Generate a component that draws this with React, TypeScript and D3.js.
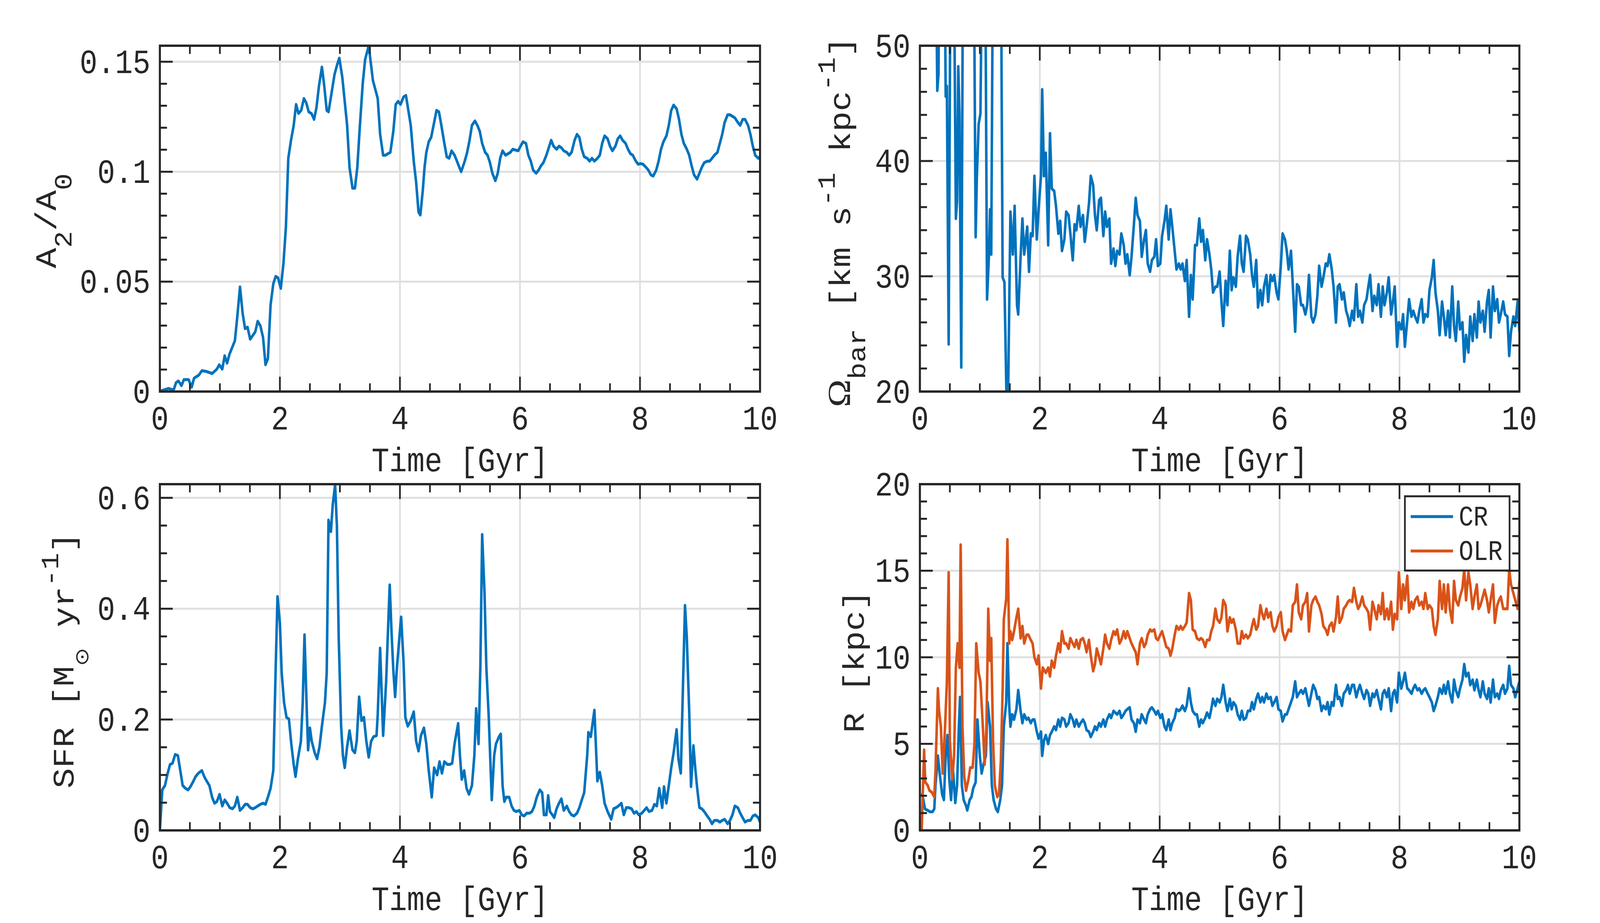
import React from 'react';
import * as d3 from 'd3';

type Pt = [number, number];

// ---------------- data ----------------
const xTickValues = [0, 2, 4, 6, 8, 10];
const xTickLabels = ['0', '2', '4', '6', '8', '10'];

const a2TickValues = [0, 0.05, 0.1, 0.15];
const a2TickLabels = ['0', '0.05', '0.1', '0.15'];
const omegaTickValues = [20, 30, 40, 50];
const omegaTickLabels = ['20', '30', '40', '50'];
const sfrTickValues = [0, 0.2, 0.4, 0.6];
const sfrTickLabels = ['0', '0.2', '0.4', '0.6'];
const rTickValues = [0, 5, 10, 15, 20];
const rTickLabels = ['0', '5', '10', '15', '20'];

const a2Points: Pt[] = [
  [0, 0], [0.06, 0.0007], [0.145, 0.0014], [0.23, 0.0007], [0.27, 0.0041], [0.31, 0.0048], [0.36, 0.0027], [0.40, 0.0054], [0.48, 0.0054], [0.53, 0.002],
  [0.57, 0.0061], [0.61, 0.0068], [0.65, 0.0075], [0.70, 0.0095], [0.78, 0.0091], [0.87, 0.0082], [0.95, 0.0102], [0.99, 0.0122], [1.04, 0.0102], [1.08, 0.0163],
  [1.12, 0.0129], [1.16, 0.0170], [1.25, 0.0231], [1.29, 0.0340], [1.335, 0.0476], [1.38, 0.0354], [1.42, 0.0286], [1.46, 0.0293], [1.505, 0.0238], [1.59, 0.0272],
  [1.63, 0.0320], [1.675, 0.0299], [1.72, 0.0245], [1.76, 0.0122], [1.80, 0.0150], [1.845, 0.0395], [1.89, 0.0490], [1.93, 0.0524], [1.97, 0.0517], [2.015, 0.0469],
  [2.06, 0.0585], [2.10, 0.0748], [2.14, 0.1061], [2.185, 0.1143], [2.23, 0.1211], [2.27, 0.1306], [2.31, 0.1265], [2.355, 0.1279], [2.40, 0.1333], [2.44, 0.1313],
  [2.48, 0.1272], [2.525, 0.1265], [2.57, 0.1238], [2.61, 0.1293], [2.65, 0.1388], [2.70, 0.1476], [2.74, 0.1388], [2.78, 0.1279], [2.81, 0.1272], [2.87, 0.1374],
  [2.91, 0.1442], [2.95, 0.1483], [2.99, 0.1517], [3.04, 0.1429], [3.12, 0.1211], [3.16, 0.1020], [3.21, 0.0925], [3.25, 0.0925], [3.29, 0.1020], [3.33, 0.1197],
  [3.38, 0.1401], [3.42, 0.1510], [3.48, 0.1573], [3.55, 0.1415], [3.59, 0.1374], [3.63, 0.1333], [3.67, 0.1170], [3.72, 0.1075], [3.76, 0.1075], [3.80, 0.1082],
  [3.84, 0.1088], [3.89, 0.1184], [3.93, 0.1306], [3.97, 0.1320], [4.01, 0.1306], [4.06, 0.1340], [4.10, 0.1347], [4.14, 0.1279], [4.18, 0.1211], [4.23, 0.1048],
  [4.27, 0.0952], [4.31, 0.0816], [4.34, 0.0803], [4.38, 0.0912], [4.41, 0.1020], [4.44, 0.1088], [4.48, 0.1136], [4.52, 0.1156], [4.57, 0.1224], [4.61, 0.1279],
  [4.65, 0.1272], [4.69, 0.1211], [4.74, 0.1129], [4.78, 0.1068], [4.82, 0.1061], [4.86, 0.1095], [4.91, 0.1075], [4.95, 0.1048], [4.99, 0.1020], [5.02, 0.1000],
  [5.08, 0.1048], [5.12, 0.1088], [5.16, 0.1143], [5.20, 0.1211], [5.25, 0.1231], [5.29, 0.1211], [5.33, 0.1184], [5.37, 0.1129], [5.42, 0.1088], [5.46, 0.1075],
  [5.50, 0.1041], [5.54, 0.0993], [5.59, 0.0959], [5.63, 0.0993], [5.67, 0.1061], [5.71, 0.1095], [5.76, 0.1075], [5.84, 0.1088], [5.88, 0.1102], [5.97, 0.1095],
  [6.01, 0.1116], [6.05, 0.1136], [6.10, 0.1129], [6.14, 0.1075], [6.18, 0.1048], [6.22, 0.1007], [6.27, 0.0993], [6.31, 0.1007], [6.35, 0.1027], [6.39, 0.1041],
  [6.44, 0.1075], [6.48, 0.1109], [6.52, 0.1143], [6.56, 0.1116], [6.61, 0.1102], [6.65, 0.1116], [6.69, 0.1109], [6.73, 0.1095], [6.78, 0.1088], [6.82, 0.1075],
  [6.86, 0.1088], [6.91, 0.1143], [6.95, 0.1170], [6.99, 0.1156], [7.03, 0.1102], [7.07, 0.1068], [7.12, 0.1061], [7.16, 0.1048], [7.20, 0.1061], [7.24, 0.1048],
  [7.29, 0.1061], [7.33, 0.1075], [7.37, 0.1129], [7.41, 0.1163], [7.46, 0.1150], [7.50, 0.1116], [7.54, 0.1095], [7.59, 0.1116], [7.63, 0.1150], [7.67, 0.1163],
  [7.71, 0.1143], [7.76, 0.1129], [7.80, 0.1102], [7.84, 0.1082], [7.88, 0.1075], [7.93, 0.1048], [7.97, 0.1034], [8.01, 0.1037], [8.05, 0.1034], [8.10, 0.1020],
  [8.14, 0.1007], [8.18, 0.0986], [8.22, 0.0980], [8.27, 0.1007], [8.31, 0.1048], [8.35, 0.1102], [8.39, 0.1136], [8.44, 0.1163], [8.48, 0.1211], [8.52, 0.1279],
  [8.56, 0.1303], [8.61, 0.1286], [8.65, 0.1238], [8.69, 0.1170], [8.73, 0.1129], [8.78, 0.1102], [8.82, 0.1075], [8.86, 0.1027], [8.90, 0.0986], [8.95, 0.0966],
  [8.99, 0.0993], [9.03, 0.1020], [9.07, 0.1041], [9.12, 0.1048], [9.16, 0.1048], [9.20, 0.1061], [9.24, 0.1075], [9.29, 0.1088], [9.33, 0.1129], [9.37, 0.1170],
  [9.41, 0.1224], [9.46, 0.1259], [9.50, 0.1259], [9.54, 0.1252], [9.58, 0.1245], [9.63, 0.1224], [9.67, 0.1211], [9.71, 0.1238], [9.75, 0.1238], [9.80, 0.1211],
  [9.84, 0.1170], [9.88, 0.1116], [9.92, 0.1075], [9.97, 0.1061], [10.0, 0.1068],
];

const sfrPoints: Pt[] = [
  [0, 0], [0.04, 0.073], [0.085, 0.081], [0.13, 0.103], [0.17, 0.119], [0.21, 0.121], [0.255, 0.137], [0.30, 0.135], [0.34, 0.108], [0.38, 0.081],
  [0.425, 0.076], [0.47, 0.073], [0.51, 0.079], [0.55, 0.087], [0.595, 0.097], [0.64, 0.103], [0.70, 0.108], [0.74, 0.097], [0.78, 0.089], [0.825, 0.081],
  [0.87, 0.060], [0.91, 0.049], [0.95, 0.052], [0.995, 0.065], [1.04, 0.044], [1.08, 0.055], [1.12, 0.049], [1.165, 0.041], [1.21, 0.039], [1.25, 0.044],
  [1.29, 0.060], [1.335, 0.036], [1.38, 0.041], [1.42, 0.047], [1.46, 0.047], [1.505, 0.041], [1.55, 0.039], [1.59, 0.041], [1.63, 0.044], [1.675, 0.047],
  [1.72, 0.049], [1.76, 0.047], [1.80, 0.060], [1.845, 0.076], [1.89, 0.108], [1.93, 0.294], [1.96, 0.422], [2.00, 0.374], [2.03, 0.284], [2.07, 0.230],
  [2.11, 0.204], [2.15, 0.201], [2.19, 0.156], [2.23, 0.119], [2.26, 0.097], [2.30, 0.129], [2.35, 0.161], [2.38, 0.230], [2.41, 0.353], [2.45, 0.209],
  [2.47, 0.145], [2.50, 0.185], [2.53, 0.161], [2.58, 0.140], [2.62, 0.129], [2.66, 0.151], [2.70, 0.188], [2.75, 0.230], [2.78, 0.284], [2.81, 0.560],
  [2.85, 0.539], [2.88, 0.587], [2.92, 0.624], [2.95, 0.549], [2.98, 0.347], [3.02, 0.188], [3.05, 0.135], [3.08, 0.113], [3.12, 0.151], [3.16, 0.180],
  [3.21, 0.145], [3.25, 0.140], [3.28, 0.161], [3.32, 0.241], [3.36, 0.198], [3.40, 0.204], [3.44, 0.161], [3.48, 0.132], [3.52, 0.161], [3.56, 0.169],
  [3.61, 0.171], [3.63, 0.209], [3.67, 0.329], [3.72, 0.171], [3.77, 0.268], [3.80, 0.358], [3.83, 0.443], [3.86, 0.358], [3.89, 0.289], [3.92, 0.241],
  [3.95, 0.294], [3.99, 0.347], [4.02, 0.385], [4.06, 0.305], [4.09, 0.204], [4.13, 0.188], [4.18, 0.198], [4.23, 0.214], [4.27, 0.161], [4.31, 0.143],
  [4.35, 0.171], [4.40, 0.185], [4.44, 0.156], [4.48, 0.108], [4.53, 0.060], [4.57, 0.113], [4.62, 0.100], [4.66, 0.124], [4.70, 0.103], [4.74, 0.124],
  [4.79, 0.119], [4.83, 0.119], [4.87, 0.121], [4.91, 0.156], [4.97, 0.193], [5.00, 0.135], [5.03, 0.092], [5.07, 0.108], [5.11, 0.076], [5.15, 0.065],
  [5.20, 0.081], [5.24, 0.135], [5.27, 0.220], [5.31, 0.156], [5.34, 0.294], [5.37, 0.534], [5.41, 0.427], [5.44, 0.294], [5.48, 0.204], [5.53, 0.055],
  [5.57, 0.135], [5.60, 0.156], [5.65, 0.169], [5.68, 0.174], [5.71, 0.081], [5.74, 0.052], [5.77, 0.060], [5.82, 0.060], [5.86, 0.044], [5.90, 0.036],
  [5.94, 0.034], [5.99, 0.036], [6.03, 0.028], [6.07, 0.026], [6.11, 0.031], [6.16, 0.031], [6.20, 0.034], [6.24, 0.044], [6.28, 0.060], [6.33, 0.073],
  [6.37, 0.068], [6.40, 0.028], [6.44, 0.028], [6.47, 0.063], [6.50, 0.034], [6.54, 0.028], [6.57, 0.023], [6.61, 0.039], [6.65, 0.049], [6.69, 0.057],
  [6.73, 0.036], [6.78, 0.044], [6.82, 0.034], [6.86, 0.028], [6.90, 0.026], [6.95, 0.031], [6.99, 0.041], [7.03, 0.055], [7.07, 0.068], [7.12, 0.135],
  [7.14, 0.177], [7.18, 0.169], [7.21, 0.193], [7.24, 0.217], [7.26, 0.166], [7.29, 0.089], [7.33, 0.105], [7.37, 0.081], [7.41, 0.049], [7.46, 0.034],
  [7.52, 0.020], [7.56, 0.039], [7.60, 0.041], [7.64, 0.044], [7.69, 0.049], [7.73, 0.028], [7.77, 0.041], [7.81, 0.041], [7.86, 0.039], [7.90, 0.031],
  [7.94, 0.034], [7.98, 0.028], [8.03, 0.031], [8.07, 0.036], [8.11, 0.041], [8.15, 0.034], [8.20, 0.036], [8.24, 0.047], [8.28, 0.044], [8.32, 0.076],
  [8.37, 0.041], [8.40, 0.079], [8.44, 0.049], [8.48, 0.081], [8.52, 0.113], [8.56, 0.140], [8.61, 0.182], [8.64, 0.129], [8.68, 0.103], [8.72, 0.278],
  [8.75, 0.406], [8.78, 0.347], [8.82, 0.214], [8.85, 0.079], [8.89, 0.153], [8.92, 0.113], [8.95, 0.079], [8.99, 0.041], [9.03, 0.039], [9.07, 0.034],
  [9.12, 0.026], [9.16, 0.020], [9.20, 0.012], [9.24, 0.018], [9.29, 0.018], [9.33, 0.015], [9.37, 0.018], [9.41, 0.020], [9.46, 0.012], [9.50, 0.018],
  [9.54, 0.028], [9.58, 0.044], [9.63, 0.041], [9.67, 0.031], [9.71, 0.023], [9.75, 0.015], [9.80, 0.018], [9.84, 0.018], [9.88, 0.026], [9.92, 0.028],
  [9.97, 0.023], [10.0, 0.015],
];

// early (irregular) part of the pattern-speed and resonance series
const omegaEarly: Pt[] = [
  [0.02, 80], [0.26, 62], [0.29, 46.1], [0.31, 47.5], [0.33, 62], [0.41, 60], [0.43, 45.6], [0.45, 46.5], [0.48, 24.1], [0.51, 58],
  [0.57, 56], [0.60, 35.0], [0.62, 36.5], [0.64, 48.2], [0.66, 44], [0.69, 22.1], [0.72, 60], [0.90, 58], [0.93, 33.4], [0.95, 38.6],
  [0.98, 43.2], [1.01, 44.1], [1.04, 60], [1.09, 58], [1.12, 28.0], [1.15, 31.6], [1.17, 35.8], [1.19, 31.9], [1.22, 60], [1.35, 60],
  [1.38, 29.9], [1.41, 29.5], [1.46, 15], [1.51, 35.6], [1.55, 31.9], [1.58, 36.1], [1.62, 27.5], [1.64, 26.7], [1.68, 31.7], [1.71, 35.0],
  [1.74, 31.9], [1.79, 34.3], [1.82, 30.4], [1.85, 33.7], [1.88, 33.5], [1.91, 38.7], [1.95, 33.2], [1.98, 35.8], [2.02, 38.7], [2.04, 46.2],
  [2.07, 38.7],
];

const crEarly: Pt[] = [
  [0.04, 2.1], [0.085, 1.24], [0.13, 1.16], [0.17, 1.07], [0.21, 1.07], [0.24, 1.24], [0.26, 2.6], [0.30, 4.31], [0.33, 3.29], [0.37, 2.1],
  [0.40, 1.76], [0.43, 4.3], [0.46, 5.5], [0.49, 2.95], [0.52, 1.76], [0.55, 3.63], [0.59, 1.59], [0.62, 2.6], [0.65, 6.0], [0.67, 7.7],
  [0.70, 2.6], [0.73, 1.76], [0.77, 1.42], [0.79, 1.16], [0.83, 1.76], [0.86, 1.93], [0.89, 2.44], [0.93, 2.78], [0.96, 6.4], [1.00, 4.3],
  [1.03, 3.29], [1.06, 3.8], [1.10, 4.3], [1.13, 7.4], [1.17, 6.0], [1.20, 2.6], [1.23, 1.76], [1.27, 1.24], [1.30, 1.07], [1.34, 1.76],
  [1.37, 2.6], [1.40, 6.0], [1.44, 7.4], [1.46, 10.8], [1.49, 7.2], [1.51, 6.0], [1.54, 6.7], [1.57, 6.4], [1.61, 7.0], [1.64, 8.1],
  [1.68, 6.9], [1.71, 6.2], [1.74, 6.7], [1.78, 6.4], [1.81, 6.5], [1.85, 6.2], [1.88, 6.4], [1.91, 6.4], [1.95, 5.7], [1.98, 5.3],
  [2.02, 5.7], [2.04, 4.31], [2.07, 5.2],
];

const olrEarly: Pt[] = [
  [0.03, 0], [0.07, 4.65], [0.09, 2.78], [0.13, 2.6], [0.16, 2.3], [0.20, 2.2], [0.24, 1.93], [0.26, 3.46], [0.30, 8.2], [0.32, 6.9],
  [0.35, 6.0], [0.38, 3.29], [0.42, 6.0], [0.45, 8.6], [0.48, 14.9], [0.50, 5.2], [0.54, 2.95], [0.57, 4.31], [0.60, 9.4], [0.63, 10.8],
  [0.66, 9.4], [0.68, 16.5], [0.71, 6.0], [0.74, 3.12], [0.77, 2.3], [0.81, 2.95], [0.84, 3.63], [0.88, 3.63], [0.91, 5.0], [0.94, 10.8],
  [0.98, 9.1], [1.01, 8.6], [1.05, 6.0], [1.08, 3.8], [1.11, 6.0], [1.14, 12.8], [1.17, 9.8], [1.19, 11.1], [1.22, 5.2], [1.25, 2.6],
  [1.29, 1.93], [1.32, 2.1], [1.35, 4.0], [1.38, 8.1], [1.40, 12.2], [1.44, 13.4], [1.46, 16.8], [1.49, 10.8], [1.51, 11.5], [1.54, 11.0],
  [1.57, 11.5], [1.61, 12.3], [1.64, 12.8], [1.68, 11.1], [1.71, 11.8], [1.74, 10.8], [1.78, 11.3], [1.81, 11.3], [1.85, 11.0], [1.88, 10.8],
  [1.91, 10.0], [1.95, 9.6], [1.98, 10.1], [2.02, 8.2], [2.05, 9.4],
];

// regular snapshot times after 2.1 Gyr (shared by the pattern-speed, CR and OLR series)
const snapTimes = [
  2.10, 2.14, 2.17, 2.20, 2.24, 2.27, 2.31, 2.34, 2.37, 2.41,
  2.44, 2.48, 2.51, 2.55, 2.58, 2.61, 2.65, 2.68, 2.72, 2.75,
  2.78, 2.82, 2.85, 2.89, 2.92, 2.95, 2.99, 3.02, 3.06, 3.09,
  3.12, 3.16, 3.19, 3.23, 3.26, 3.29, 3.33, 3.36, 3.40, 3.43,
  3.46, 3.50, 3.53, 3.57, 3.60, 3.63, 3.67, 3.70, 3.74, 3.77,
  3.80, 3.84, 3.87, 3.91, 3.94, 3.97, 4.01, 4.04, 4.08, 4.11,
  4.15, 4.18, 4.21, 4.25, 4.28, 4.32, 4.35, 4.38, 4.42, 4.45,
  4.49, 4.52, 4.55, 4.59, 4.62, 4.66, 4.69, 4.72, 4.76, 4.79,
  4.83, 4.86, 4.89, 4.93, 4.96, 5.00, 5.03, 5.06, 5.10, 5.13,
  5.17, 5.20, 5.23, 5.27, 5.30, 5.34, 5.37, 5.40, 5.44, 5.47,
  5.51, 5.54, 5.57, 5.61, 5.64, 5.68, 5.71, 5.74, 5.78, 5.81,
  5.85, 5.88, 5.91, 5.95, 5.98, 6.02, 6.05, 6.09, 6.12, 6.15,
  6.19, 6.22, 6.26, 6.29, 6.32, 6.36, 6.39, 6.43, 6.46, 6.49,
  6.53, 6.56, 6.60, 6.63, 6.66, 6.70, 6.73, 6.77, 6.80, 6.83,
  6.87, 6.90, 6.94, 6.97, 7.00, 7.04, 7.07, 7.11, 7.14, 7.17,
  7.21, 7.24, 7.28, 7.31, 7.34, 7.38, 7.41, 7.45, 7.48, 7.51,
  7.55, 7.58, 7.62, 7.65, 7.69, 7.72, 7.75, 7.79, 7.82, 7.86,
  7.89, 7.92, 7.96, 7.99, 8.03, 8.06, 8.09, 8.13, 8.16, 8.20,
  8.23, 8.26, 8.30, 8.33, 8.37, 8.40, 8.43, 8.47, 8.50, 8.54,
  8.57, 8.60, 8.64, 8.67, 8.71, 8.74, 8.77, 8.81, 8.84, 8.88,
  8.91, 8.94, 8.98, 9.01, 9.05, 9.08, 9.11, 9.15, 9.18, 9.22,
  9.25, 9.29, 9.32, 9.35, 9.39, 9.42, 9.46, 9.49, 9.52, 9.56,
  9.59, 9.63, 9.66, 9.69, 9.73, 9.76, 9.80, 9.83, 9.86, 9.90,
  9.93, 9.97, 10.0,
];

const omegaLate = [
  40.7, 32.7, 42.4, 37.6, 37.4, 36.1, 33.7, 34.8, 32.2, 33.2,
  35.6, 35.3, 33.7, 31.4, 34.5, 34.0, 36.1, 34.3, 35.3, 33.0,
  34.3, 36.3, 38.7, 37.9, 35.3, 34.0, 36.6, 36.8, 33.5, 35.6,
  34.3, 35.0, 31.1, 32.4, 30.9, 32.2, 31.9, 33.7, 32.7, 31.1,
  31.9, 30.1, 31.7, 34.5, 36.8, 35.3, 34.8, 31.7, 33.2, 34.0,
  31.1, 30.4, 31.4, 31.7, 33.2, 30.9, 31.1, 33.5, 34.8, 36.1,
  33.2, 35.8, 34.3, 32.2, 30.6, 31.1, 30.6, 31.1, 29.6, 31.4,
  26.5, 30.1, 28.0, 32.7, 32.7, 35.0, 33.0, 34.0, 31.4, 33.2,
  31.9, 30.6, 28.6, 29.1, 29.1, 30.4, 27.8, 25.7, 29.6, 27.5,
  32.2, 28.8, 29.9, 29.1, 31.7, 33.5, 31.1, 30.4, 33.5, 33.2,
  31.9, 30.1, 29.1, 31.4, 27.3, 28.8, 27.5, 29.1, 30.1, 27.8,
  30.1, 29.6, 30.1, 28.6, 28.0, 30.9, 33.7, 33.2, 32.2, 30.6,
  32.2, 29.3, 25.2, 29.3, 29.1, 27.5, 27.5, 26.7, 27.5, 30.1,
  26.5, 26.0, 26.7, 28.3, 30.9, 29.1, 29.9, 31.1, 30.9, 31.9,
  30.6, 29.1, 26.0, 29.1, 29.3, 28.0, 28.6, 27.0, 26.5, 25.7,
  27.0, 26.2, 29.3, 26.5, 27.0, 26.0, 27.5, 28.0, 29.1, 30.1,
  27.0, 28.3, 27.5, 29.3, 26.5, 29.1, 27.5, 28.6, 29.9, 26.7,
  27.8, 29.1, 23.9, 26.0, 25.4, 26.7, 23.9, 26.2, 28.0, 26.5,
  27.0, 26.5, 26.0, 27.0, 28.0, 26.0, 26.7, 26.5, 28.8, 29.9,
  31.4, 28.6, 27.0, 24.9, 27.8, 26.5, 24.9, 27.0, 24.7, 29.1,
  25.7, 24.4, 27.8, 25.4, 26.0, 22.6, 24.9, 23.4, 26.5, 24.4,
  26.7, 24.7, 27.8, 26.0, 27.0, 25.2, 27.8, 28.8, 24.7, 29.1,
  27.0, 28.0, 26.0, 26.7, 27.8, 26.7, 26.5, 23.1, 25.2, 26.5,
  25.7, 27.8, 25.2,
];

const crLate = [
  5.5, 5.0, 5.5, 5.7, 6.0, 5.8, 6.4, 6.0, 6.5, 6.4,
  6.0, 6.2, 6.7, 6.4, 6.0, 6.4, 6.0, 6.2, 6.4, 6.2,
  5.8, 5.7, 5.4, 5.7, 6.0, 5.8, 6.2, 6.0, 6.4, 6.0,
  6.4, 6.7, 6.5, 6.9, 6.8, 6.7, 6.9, 6.5, 6.7, 6.9,
  7.0, 7.1, 6.4, 6.2, 5.7, 6.4, 6.2, 6.7, 6.4, 6.2,
  6.7, 7.0, 7.1, 6.9, 6.7, 6.9, 6.5, 6.7, 6.0, 5.8,
  6.4, 5.8, 6.2, 6.5, 7.0, 6.9, 7.0, 7.2, 6.9, 7.2,
  8.2, 7.4, 6.9, 6.7, 6.7, 6.0, 6.4, 6.2, 6.5, 6.8,
  6.5, 7.0, 7.6, 7.2, 7.6, 7.4, 7.7, 8.4, 7.4, 6.9,
  7.6, 7.0, 7.4, 7.2, 6.7, 6.4, 6.9, 6.4, 6.5, 6.9,
  6.9, 7.4, 7.0, 7.6, 7.9, 7.4, 7.7, 7.4, 7.9, 7.6,
  7.7, 7.2, 7.4, 7.7, 7.0, 6.9, 6.3, 6.7, 6.7, 7.0,
  7.4, 7.7, 8.6, 7.7, 7.9, 8.1, 7.9, 8.2, 7.7, 7.2,
  7.9, 8.4, 8.1, 7.6, 7.7, 6.9, 7.2, 7.0, 7.4, 6.7,
  7.4, 7.2, 8.4, 7.6, 7.7, 7.2, 7.9, 8.1, 8.4, 7.9,
  8.4, 8.4, 7.7, 8.1, 8.4, 7.9, 7.6, 8.1, 7.9, 7.2,
  7.9, 7.7, 8.1, 7.6, 7.0, 7.9, 8.1, 7.7, 8.2, 6.9,
  7.9, 8.1, 7.4, 9.1, 8.2, 8.6, 9.1, 8.2, 8.1, 7.9,
  8.2, 8.4, 8.1, 8.2, 7.9, 8.1, 8.2, 7.9, 7.7, 7.4,
  6.9, 7.2, 7.7, 8.2, 7.9, 8.4, 7.9, 8.6, 7.9, 7.4,
  8.7, 8.1, 7.7, 8.2, 8.7, 9.6, 8.9, 9.1, 8.4, 8.7,
  8.1, 8.7, 8.1, 7.7, 8.6, 7.9, 7.6, 8.2, 7.4, 8.7,
  7.7, 7.9, 7.6, 8.1, 8.4, 7.9, 8.2, 9.5, 8.4, 8.2,
  7.7, 8.2, 8.6,
];

const olrLate = [
  9.1, 9.4, 8.9, 9.8, 9.4, 10.1, 10.8, 10.3, 11.5, 10.8,
  10.8, 10.5, 11.1, 10.8, 10.6, 11.0, 10.5, 11.0, 11.1, 10.8,
  10.3, 11.0, 10.1, 9.2, 9.6, 10.5, 10.0, 9.6, 10.5, 11.3,
  10.8, 10.5, 11.0, 11.5, 11.3, 11.6, 10.8, 11.0, 11.5, 11.1,
  11.5, 11.1, 10.8, 10.5, 10.3, 9.6, 10.8, 11.1, 10.6, 10.8,
  11.3, 11.6, 11.5, 11.6, 11.1, 11.0, 11.3, 11.5, 11.0, 10.6,
  10.5, 10.1, 10.5, 11.3, 11.8, 11.6, 11.8, 11.6, 11.8, 12.0,
  13.7, 13.3, 11.6, 11.5, 11.1, 11.0, 11.1, 11.0, 10.6, 11.0,
  11.0, 11.5, 11.8, 12.8, 12.2, 12.0, 12.3, 13.3, 13.0, 11.5,
  12.3, 12.0, 12.2, 11.6, 10.8, 10.8, 11.5, 11.1, 11.3, 11.1,
  11.3, 11.8, 12.2, 11.6, 11.8, 13.0, 12.5, 12.2, 12.8, 12.3,
  12.6, 11.8, 11.5, 11.8, 12.3, 12.6, 11.5, 11.0, 11.3, 11.6,
  11.5, 13.0, 13.2, 14.2, 12.6, 12.2, 13.0, 13.2, 13.7, 11.5,
  13.0, 13.3, 13.5, 13.2, 13.0, 12.5, 11.8, 11.6, 11.3, 11.8,
  12.0, 11.5, 12.3, 13.5, 12.0, 12.3, 12.8, 13.0, 13.2, 13.3,
  13.2, 14.0, 13.2, 12.8, 13.0, 13.5, 13.0, 12.8, 12.6, 11.6,
  13.2, 12.8, 12.2, 13.0, 12.5, 13.7, 12.2, 12.8, 12.2, 13.2,
  11.6, 12.5, 12.2, 14.9, 12.8, 14.2, 13.3, 14.7, 12.6, 13.2,
  12.8, 13.3, 13.5, 13.0, 13.2, 12.8, 13.7, 12.8, 13.0, 12.8,
  11.8, 11.3, 12.2, 14.4, 12.8, 14.2, 12.6, 14.2, 12.8, 12.0,
  14.4, 13.3, 13.0, 13.5, 14.0, 15.1, 13.3, 14.9, 14.2, 12.8,
  13.5, 14.2, 12.8, 13.0, 13.5, 13.9, 13.3, 12.6, 13.3, 14.2,
  12.0, 13.0, 13.3, 13.5, 12.8, 12.8, 12.8, 15.1, 14.2, 13.7,
  13.3, 12.8, 14.4,
];

// ---------------- style ----------------
const W = 4724;
const H = 2362;
const FONT = '"Liberation Mono", "Courier New", monospace';
const INK = '#262626';
const GRID = '#dfdfdf';
const BLUE = '#0072BD';
const ORANGE = '#D95319';
const FS = 87;
const SUB = 72;
const LW = 7.5;
const MAJOR = 38;
const MINOR = 21;

function join(early: Pt[], times: number[], vals: number[]): Pt[] {
  const n = Math.min(times.length, vals.length);
  const late: Pt[] = [];
  for (let i = 0; i < n; i++) late.push([times[i], vals[i]]);
  return early.concat(late);
}

type Series = { name: string; color: string; points: Pt[] };

type PanelProps = {
  id: string;
  l: number; r: number; t: number; b: number;
  yDomain: [number, number];
  yMajor: number[];
  yLabels: string[];
  yMinorStep: number;
  series: Series[];
  yLabelX: number;
  yLabelY: number;
  yLabel: React.ReactNode;
  legend?: boolean;
};

function Panel(p: PanelProps) {
  const { id, l, r, t, b, yDomain, yMajor, yLabels, yMinorStep, series } = p;
  const x = d3.scaleLinear().domain([0, 10]).range([l, r]);
  const y = d3.scaleLinear().domain(yDomain).range([b, t]);
  const line = d3.line<Pt>().x(d => x(d[0])).y(d => y(d[1]));
  const xMinor = d3.range(0, 10.001, 0.5).filter(v => Math.abs(v / 2 - Math.round(v / 2)) > 1e-6);
  const yMinor = d3.range(yDomain[0], yDomain[1] + 1e-9, yMinorStep)
    .filter(v => !yMajor.some(m => Math.abs(m - v) < yMinorStep * 0.01));
  const cx = (l + r) / 2;
  return (
    <g>
      <defs>
        <clipPath id={id}>
          <rect x={l} y={t} width={r - l} height={b - t} />
        </clipPath>
      </defs>
      <g stroke={GRID} strokeWidth={5}>
        {xTickValues.map(v => <line key={'gx' + v} x1={x(v)} x2={x(v)} y1={t} y2={b} />)}
        {yMajor.map(v => <line key={'gy' + v} x1={l} x2={r} y1={y(v)} y2={y(v)} />)}
      </g>
      <g clipPath={`url(#${id})`} fill="none" strokeWidth={LW} strokeLinejoin="round" strokeLinecap="round">
        {series.map(s => <path key={s.name} d={line(s.points) || ''} stroke={s.color} />)}
      </g>
      <g stroke={INK} strokeWidth={5}>
        {xTickValues.map(v => (
          <g key={'tx' + v}>
            <line x1={x(v)} x2={x(v)} y1={b} y2={b - MAJOR} />
            <line x1={x(v)} x2={x(v)} y1={t} y2={t + MAJOR} />
          </g>
        ))}
        {xMinor.map(v => (
          <g key={'mx' + v}>
            <line x1={x(v)} x2={x(v)} y1={b} y2={b - MINOR} />
            <line x1={x(v)} x2={x(v)} y1={t} y2={t + MINOR} />
          </g>
        ))}
        {yMajor.map(v => (
          <g key={'ty' + v}>
            <line x1={l} x2={l + MAJOR} y1={y(v)} y2={y(v)} />
            <line x1={r} x2={r - MAJOR} y1={y(v)} y2={y(v)} />
          </g>
        ))}
        {yMinor.map(v => (
          <g key={'my' + v}>
            <line x1={l} x2={l + MINOR} y1={y(v)} y2={y(v)} />
            <line x1={r} x2={r - MINOR} y1={y(v)} y2={y(v)} />
          </g>
        ))}
      </g>
      <rect x={l} y={t} width={r - l} height={b - t} fill="none" stroke={INK} strokeWidth={6} />
      <g fill={INK} fontSize={FS}>
        {xTickValues.map((v, i) => (
          <text key={'lx' + v} x={x(v)} y={b + 97} textAnchor="middle">{xTickLabels[i]}</text>
        ))}
        {yMajor.map((v, i) => (
          <text key={'ly' + v} x={l - 28} y={y(v)} dy="0.33em" textAnchor="end">{yLabels[i]}</text>
        ))}
        <text x={cx} y={b + 204} textAnchor="middle">Time [Gyr]</text>
        <text transform={`translate(${p.yLabelX},${p.yLabelY}) rotate(-90)`} textAnchor="middle" style={{ whiteSpace: 'pre' }}>
          {p.yLabel}
        </text>
      </g>
      {p.legend && (
        <g>
          <rect x={4148} y={1270} width={309} height={190} fill="#fff" stroke={INK} strokeWidth={5} />
          {series.map((s, i) => (
            <g key={'lg' + s.name}>
              <line x1={4165} x2={4290} y1={1322 + i * 88} y2={1322 + i * 88} stroke={s.color} strokeWidth={LW} />
              <text x={4307} y={1322 + i * 88} dy="0.32em" fontSize={SUB} fill={INK}>{s.name}</text>
            </g>
          ))}
        </g>
      )}
    </g>
  );
}

export default function App() {
  const omegaSeries = join(omegaEarly, snapTimes, omegaLate);
  const crSeries = join(crEarly, snapTimes, crLate);
  const olrSeries = join(olrEarly, snapTimes, olrLate);
  const L1 = 472, R1 = 2244, L2 = 2716, R2 = 4486;
  const T1 = 117, B1 = 1002, T2 = 1239, B2 = 2125;
  return (
    <svg viewBox={`0 0 ${W} ${H}`} preserveAspectRatio="none" fontFamily={FONT}
      style={{ position: 'fixed', left: 0, top: 0, width: '100vw', height: '100vh', background: '#fff', display: 'block' }}>
      <rect x={0} y={0} width={W} height={H} fill="#fff" />
      <Panel id="cA2" l={L1} r={R1} t={T1} b={B1} yDomain={[0, 0.1573]}
        yMajor={a2TickValues} yLabels={a2TickLabels} yMinorStep={0.01}
        series={[{ name: 'A2', color: BLUE, points: a2Points }]}
        yLabelX={165} yLabelY={565}
        yLabel={<>
          <tspan>A</tspan><tspan dy={46} fontSize={SUB}>2</tspan><tspan dy={-46}>/A</tspan><tspan dy={46} fontSize={SUB}>0</tspan>
        </>} />
      <Panel id="cOm" l={L2} r={R2} t={T1} b={B1} yDomain={[20, 50]}
        yMajor={omegaTickValues} yLabels={omegaTickLabels} yMinorStep={2}
        series={[{ name: 'Omega', color: BLUE, points: omegaSeries }]}
        yLabelX={2510} yLabelY={568}
        yLabel={<>
          <tspan fontFamily='"Liberation Serif", serif' fontSize={96}>Ω</tspan>
          <tspan dy={45} fontSize={SUB}>bar</tspan>
          <tspan dy={-45}> [km s</tspan>
          <tspan dy={-45} fontSize={SUB}>-1</tspan>
          <tspan dy={45}> kpc</tspan>
          <tspan dy={-45} fontSize={SUB}>-1</tspan>
          <tspan dy={45}>]</tspan>
        </>} />
      <Panel id="cSFR" l={L1} r={R1} t={T2} b={B2} yDomain={[0, 0.6247]}
        yMajor={sfrTickValues} yLabels={sfrTickLabels} yMinorStep={0.05}
        series={[{ name: 'SFR', color: BLUE, points: sfrPoints }]}
        yLabelX={217} yLabelY={1690}
        yLabel={<>
          <tspan>SFR [M</tspan>
          <tspan dy={44} fontSize={56} fontFamily='"DejaVu Sans", sans-serif'>⊙</tspan>
          <tspan dy={-44}> yr</tspan>
          <tspan dy={-45} fontSize={SUB}>-1</tspan>
          <tspan dy={45}>]</tspan>
        </>} />
      <Panel id="cR" l={L2} r={R2} t={T2} b={B2} yDomain={[0, 20]}
        yMajor={rTickValues} yLabels={rTickLabels} yMinorStep={1}
        series={[{ name: 'CR', color: BLUE, points: crSeries }, { name: 'OLR', color: ORANGE, points: olrSeries }]}
        yLabelX={2550} yLabelY={1693}
        yLabel={<tspan>R [kpc]</tspan>}
        legend />
    </svg>
  );
}
